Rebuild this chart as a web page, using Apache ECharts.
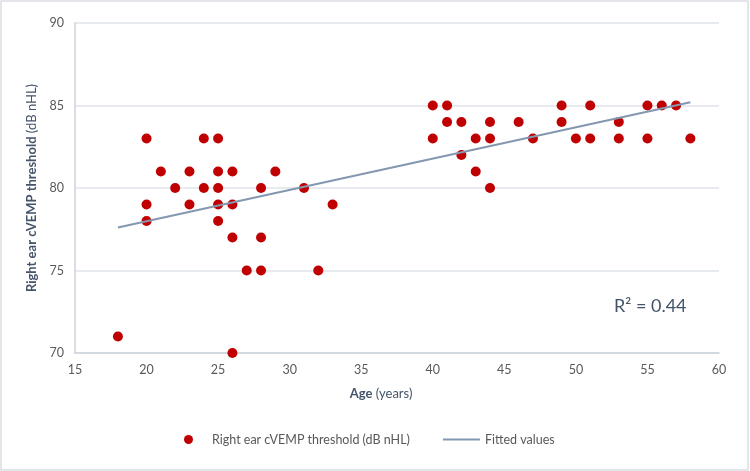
<!DOCTYPE html>
<html>
<head>
<meta charset="utf-8">
<script src="https://cdn.jsdelivr.net/npm/echarts@6/dist/echarts.min.js"></script>
<style>html,body{margin:0;padding:0;background:#fff;}#c{width:750px;height:471px;}</style>
</head>
<body>
<div id="c"></div>
<script>
var ages = [18,20,20,20,21,22,23,23,24,24,25,25,25,25,25,26,26,26,26,27,28,28,28,29,31,32,33,40,40,41,41,42,42,43,43,44,44,44,46,47,49,49,50,51,51,53,53,55,55,56,57,58];
var thresholds = [71,83,79,78,81,80,81,79,83,80,83,81,80,79,78,81,79,77,70,75,80,77,75,81,80,75,79,85,83,85,84,84,82,83,81,84,83,80,84,83,85,84,83,85,83,84,83,85,83,85,85,83];
var fitAges = [18, 58];
var fitValues = [77.6, 85.2];
var scatterName = 'Right ear cVEMP threshold (dB nHL)';
var fitName = 'Fitted values';
var r2Label = 'R² = 0.44';

var scatterData = ages.map(function(a, i){ return [a, thresholds[i]]; });
var fitData = fitAges.map(function(a, i){ return [a, fitValues[i]]; });
var FONT = 'Lato';
var chart = echarts.init(document.getElementById('c'), null, {renderer:'canvas'});
chart.setOption({
  animation: false,
  backgroundColor: '#fff',
  textStyle: {fontFamily: FONT},
  grid: {left: 75, right: 31, top: 23, bottom: 118},
  xAxis: {
    type: 'value', min: 15, max: 60, interval: 5,
    name: '{b|Age} (years)', nameLocation: 'middle', nameGap: 34,
    nameTextStyle: {color: '#44546a', fontSize: 13, fontFamily: FONT, padding: [0, 32, 0, 0],
      rich: {b: {fontWeight: 'bold', color: '#44546a', fontSize: 13, fontFamily: FONT}}},
    axisLine: {show: true, lineStyle: {color: '#cdd3dd', width: 1.5}},
    axisTick: {show: false},
    splitLine: {show: false},
    axisLabel: {color: '#595959', fontSize: 12.5, margin: 10}
  },
  yAxis: {
    type: 'value', min: 70, max: 90, interval: 5,
    name: '{b|Right ear cVEMP threshold} (dB nHL)', nameLocation: 'middle', nameGap: 29,
    nameTextStyle: {color: '#44546a', fontSize: 13, fontFamily: FONT,
      rich: {b: {fontWeight: 'bold', color: '#44546a', fontSize: 13, fontFamily: FONT}}},
    axisLine: {show: true, lineStyle: {color: '#cdd3dd', width: 1.5}},
    axisTick: {show: false},
    splitLine: {show: true, lineStyle: {color: '#dfe3ea', width: 1.5}},
    axisLabel: {color: '#595959', fontSize: 12.5, margin: 11}
  },
  legend: {
    left: 179, top: 428, itemWidth: 37, itemHeight: 9, itemGap: 33,
    textStyle: {color: '#595959', fontSize: 12.5, fontFamily: FONT},
    data: [
      {name: scatterName, icon: 'circle', itemStyle: {color: '#c00000', opacity: 1}},
      {name: fitName, icon: 'path://M0,0 L37,0 L37,2 L0,2 Z', itemStyle: {color: '#8497b0'}}
    ]
  },
  series: [
    {
      name: scatterName, type: 'scatter', data: scatterData,
      symbol: 'circle', symbolSize: 10,
      itemStyle: {color: '#c00000', opacity: 1}, z: 3
    },
    {
      name: fitName, type: 'line', data: fitData,
      symbol: 'none', showSymbol: false,
      lineStyle: {color: '#8497b0', width: 2},
      itemStyle: {color: '#8497b0'}, z: 4
    }
  ],
  graphic: [
    {type: 'rect', shape: {x: 1, y: 1, width: 747, height: 469}, style: {fill: 'none', stroke: '#dadde5', lineWidth: 1.5}, silent: true},
    {type: 'text', left: 614, top: 297, style: {text: r2Label, fill: '#44546a', font: '18px ' + FONT}}
  ]
});
</script>
</body>
</html>
